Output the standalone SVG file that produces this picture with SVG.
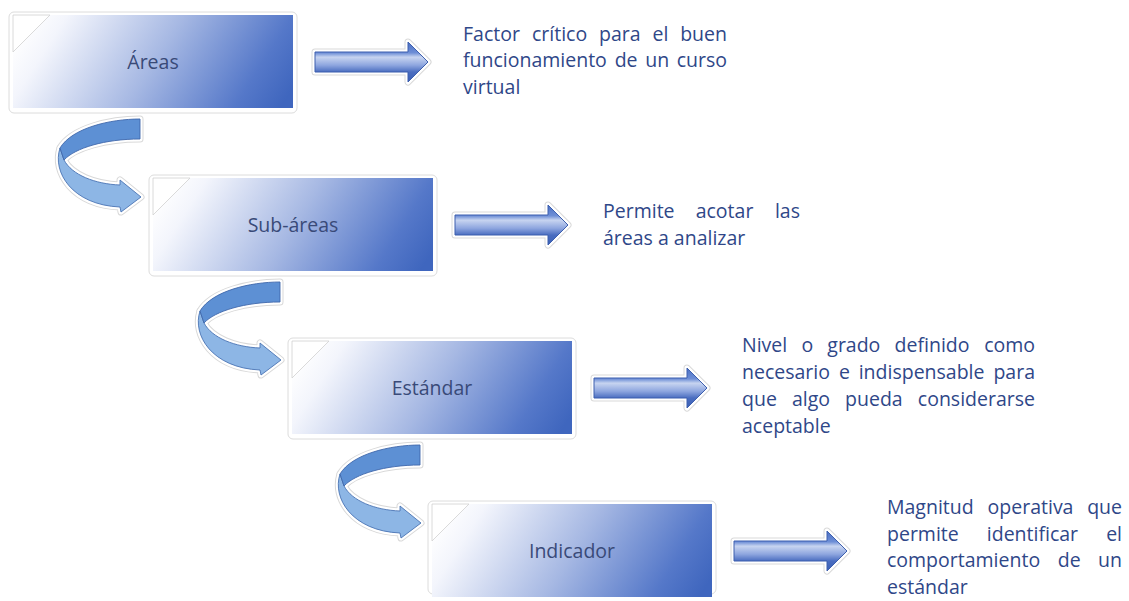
<svg xmlns="http://www.w3.org/2000/svg" width="1129" height="601" viewBox="0 0 1129 601">
<defs>
<linearGradient id="boxGrad" gradientUnits="userSpaceOnUse" x1="30" y1="-20" x2="250" y2="120">
<stop offset="0" stop-color="#ffffff"/>
<stop offset="0.12" stop-color="#f3f5fc"/>
<stop offset="0.5" stop-color="#a6b8e3"/>
<stop offset="0.85" stop-color="#5578c9"/>
<stop offset="1" stop-color="#3f66be"/>
</linearGradient>
<linearGradient id="arrGrad" gradientUnits="userSpaceOnUse" x1="0" y1="0" x2="0" y2="40">
<stop offset="0" stop-color="#4a6fc4"/>
<stop offset="0.27" stop-color="#6d8ed6"/>
<stop offset="0.38" stop-color="#c7d4f0"/>
<stop offset="0.58" stop-color="#8ea6df"/>
<stop offset="0.75" stop-color="#4a6dc0"/>
<stop offset="1" stop-color="#3a5fb5"/>
</linearGradient>
<path id="rArrow" d="M0,10 H93 V0 L113,20 L93,40 V30 H0 Z"/>
<path id="cTop" d="M140,119 C110,119 72,128 60,148 L64,160 C75,148 105,139 140,139 Z"/>
<path id="cLow" d="M60,148 C52,172 72,205 120,207 L121,212 L141,197 L120,180 L120,185 C95,184 72,175 64,160 Z"/>
</defs>
<style>
.glow{fill:#ffffff;stroke:#dcdcdc;stroke-width:1}
.box{fill:url(#boxGrad)}
.corner{fill:#ffffff;stroke:#d0d0d0;stroke-width:0.8}
.lbl{font-family:"Open Sans","Liberation Sans",sans-serif;font-size:19.5px;fill:#394a78;text-anchor:middle}
.para{font-family:"Open Sans","Liberation Sans",sans-serif;font-size:19.5px;fill:#2f4788}
.end{text-anchor:end}
.halo1{fill:none;stroke:#d9d9d9;stroke-width:7;stroke-linejoin:round}
.halo2{fill:none;stroke:#ffffff;stroke-width:5;stroke-linejoin:round}
.rfill{fill:url(#arrGrad);stroke:#3d5fae;stroke-width:1}
.ctop{fill:#5d90d4;stroke:#3f68ac;stroke-width:0.9}
.clow{fill:#8db6e5;stroke:#4a74b4;stroke-width:0.9}
</style>
<rect width="1129" height="601" fill="#ffffff"/>

<g id="connectors">
<g transform="translate(315,42)"><use href="#rArrow" class="halo1"/><use href="#rArrow" class="halo2"/><use href="#rArrow" class="rfill"/></g>
<g transform="translate(455,205)"><use href="#rArrow" class="halo1"/><use href="#rArrow" class="halo2"/><use href="#rArrow" class="rfill"/></g>
<g transform="translate(594,368)"><use href="#rArrow" class="halo1"/><use href="#rArrow" class="halo2"/><use href="#rArrow" class="rfill"/></g>
<g transform="translate(734,531)"><use href="#rArrow" class="halo1"/><use href="#rArrow" class="halo2"/><use href="#rArrow" class="rfill"/></g>

<g transform="translate(0,0)"><use href="#cLow" class="halo1"/><use href="#cTop" class="halo1"/><use href="#cLow" class="halo2"/><use href="#cTop" class="halo2"/><use href="#cLow" class="clow"/><use href="#cTop" class="ctop"/></g>
<g transform="translate(140,163)"><use href="#cLow" class="halo1"/><use href="#cTop" class="halo1"/><use href="#cLow" class="halo2"/><use href="#cTop" class="halo2"/><use href="#cLow" class="clow"/><use href="#cTop" class="ctop"/></g>
<g transform="translate(280,326)"><use href="#cLow" class="halo1"/><use href="#cTop" class="halo1"/><use href="#cLow" class="halo2"/><use href="#cTop" class="halo2"/><use href="#cLow" class="clow"/><use href="#cTop" class="ctop"/></g>
</g>

<g id="node-areas" transform="translate(13,15)">
<rect class="glow" x="-4" y="-3" width="288" height="101" rx="5"/>
<rect class="box" width="280" height="93"/>
<path class="corner" d="M0,0 H37 L0,37 Z"/>
<text class="lbl" x="140" y="53.5">Áreas</text>
</g>
<g id="node-subareas" transform="translate(153,178)">
<rect class="glow" x="-4" y="-3" width="288" height="101" rx="5"/>
<rect class="box" width="280" height="93"/>
<path class="corner" d="M0,0 H37 L0,37 Z"/>
<text class="lbl" x="140" y="53.5">Sub-áreas</text>
</g>
<g id="node-estandar" transform="translate(292,341)">
<rect class="glow" x="-4" y="-3" width="288" height="101" rx="5"/>
<rect class="box" width="280" height="93"/>
<path class="corner" d="M0,0 H37 L0,37 Z"/>
<text class="lbl" x="140" y="53.5">Estándar</text>
</g>
<g id="node-indicador" transform="translate(432,504)">
<rect class="glow" x="-4" y="-3" width="288" height="93" rx="5"/>
<rect class="box" width="280" height="93"/>
<path class="corner" d="M0,0 H37 L0,37 Z"/>
<text class="lbl" x="140" y="53.5">Indicador</text>
</g>

<g id="desc-areas" class="para">
<text x="463" y="41">Factor</text><text x="532" y="41">crítico</text><text x="599" y="41">para</text><text x="652.5" y="41">el</text><text class="end" x="727" y="41">buen</text>
<text x="463" y="67">funcionamiento</text><text x="614.7" y="67">de</text><text x="645.2" y="67">un</text><text class="end" x="727" y="67">curso</text>
<text x="463" y="94">virtual</text>
</g>
<g id="desc-subareas" class="para">
<text x="603" y="218">Permite</text><text x="695.7" y="218">acotar</text><text class="end" x="800" y="218">las</text>
<text x="603" y="245">áreas a analizar</text>
</g>
<g id="desc-estandar" class="para">
<text x="742" y="352">Nivel</text><text x="801.4" y="352">o</text><text x="827.3" y="352">grado</text><text x="894.6" y="352">definido</text><text class="end" x="1035" y="352">como</text>
<text x="742" y="379">necesario</text><text x="838.9" y="379">e</text><text x="858.7" y="379">indispensable</text><text class="end" x="1035" y="379">para</text>
<text x="742" y="406">que</text><text x="791.9" y="406">algo</text><text x="845.1" y="406">pueda</text><text class="end" x="1035" y="406">considerarse</text>
<text x="742" y="433">aceptable</text>
</g>
<g id="desc-indicador" class="para">
<text x="887" y="514">Magnitud</text><text x="987.6" y="514">operativa</text><text class="end" x="1122" y="514">que</text>
<text x="887" y="540.5">permite</text><text x="986.8" y="540.5">identificar</text><text class="end" x="1122" y="540.5">el</text>
<text x="887" y="567">comportamiento</text><text x="1057.8" y="567">de</text><text class="end" x="1122" y="567">un</text>
<text x="887" y="593.5">estándar</text>
</g>
</svg>
